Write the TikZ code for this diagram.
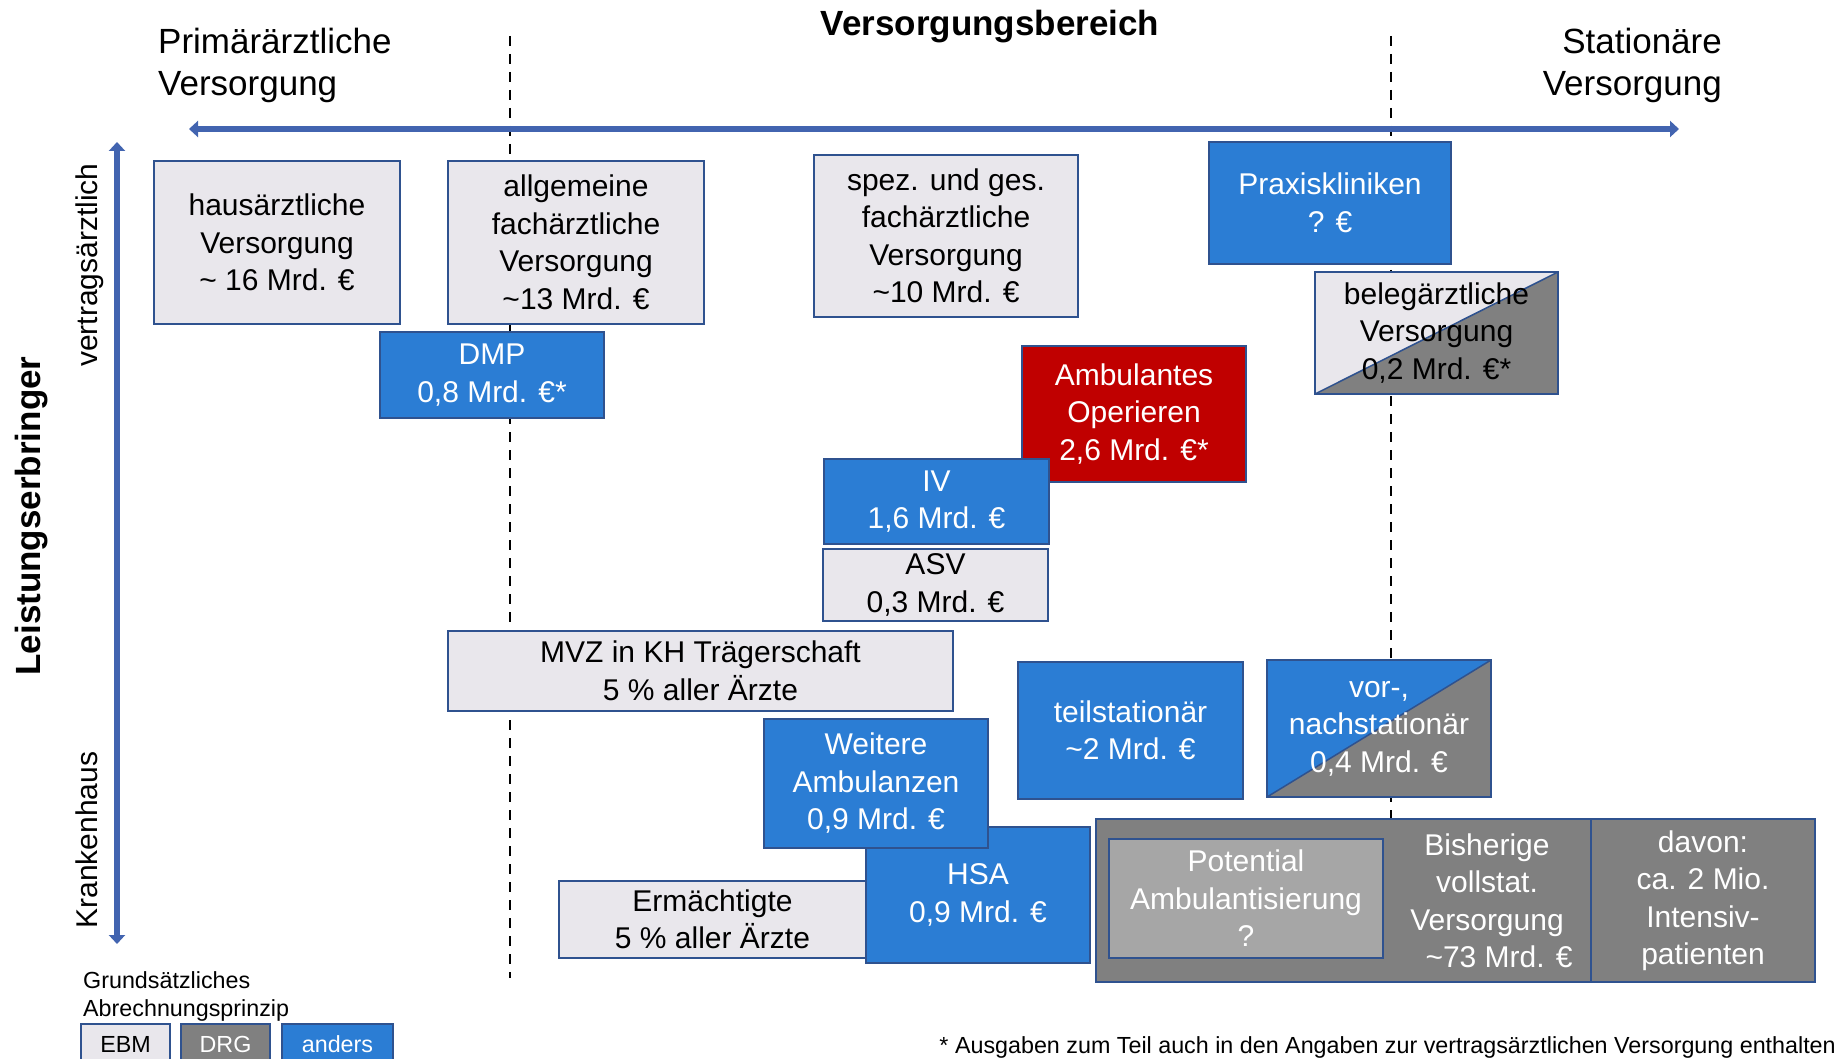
\documentclass[tikz,border=0pt]{standalone}
\usepackage{fontspec}
\setmainfont{Liberation Sans}
\usetikzlibrary{arrows.meta}

\definecolor{edgeblue}{RGB}{47,82,143}
\definecolor{axisblue}{RGB}{66,100,176}
\definecolor{ebmgray}{RGB}{233,231,236}
\definecolor{drggray}{RGB}{128,128,128}
\definecolor{potgray}{RGB}{166,166,166}
\definecolor{andersblue}{RGB}{43,125,212}
\definecolor{aopred}{RGB}{192,0,0}

\newcommand\boxfont{\fontsize{30}{37.5}\selectfont}
\newcommand\headfont{\fontsize{35}{42}\selectfont}
\newcommand\notefont{\fontsize{23.3}{28}\selectfont}

\tikzset{
  box/.style={draw=edgeblue, line width=2pt, inner sep=0pt, align=center, font=\boxfont},
  ebm/.style={box, fill=ebmgray},
  drg/.style={box, fill=drggray, text=white},
  anders/.style={box, fill=andersblue, text=white},
  halfbox/.style={box, fill=#1, path picture={
      \fill[drggray] (path picture bounding box.south west) -- (path picture bounding box.north east)
        -- (path picture bounding box.south east) -- cycle;
      \draw[edgeblue, line width=1.5pt] (path picture bounding box.south west) -- (path picture bounding box.north east);}},
  sector/.style={dash pattern=on 10pt off 8pt, line width=2pt},
  axis/.style={axisblue, line width=6pt, {Triangle[length=9pt,width=16pt]}-{Triangle[length=9pt,width=16pt]}},
}

\begin{document}
\begin{tikzpicture}[x=1pt, y=-1pt]
\useasboundingbox (0,0) rectangle (1838,1059);
% sector borders
\draw[sector] (510,36) -- (510,978);
\draw[sector] (1391,36) -- (1391,819);
% axes
\coordinate (hleft) at (189,129);
\coordinate (hright) at (1679,129);
\coordinate (vtop) at (117,142);
\coordinate (vbottom) at (117,944);
\draw[axis] (hleft) -- (hright);
\draw[axis] (vtop) -- (vbottom);
\node[font=\bfseries\headfont, anchor=base, inner sep=0pt] (title) at (990,36) {Versorgungsbereich};
\node[font=\headfont, align=left, anchor=base west, inner sep=0pt] (prim) at (158,96) {Primärärztliche\\Versorgung};
\node[font=\headfont, align=right, anchor=base east, inner sep=0pt] (stat) at (1722,96) {Stationäre\\Versorgung};
\node[font=\bfseries\headfont, rotate=90, anchor=base, inner sep=0pt] (leist) at (40,516) {Leistungserbringer};
\node[font=\boxfont, rotate=90, anchor=base, inner sep=0pt] (vertrag) at (97,265) {vertragsärztlich};
\node[font=\boxfont, rotate=90, anchor=base, inner sep=0pt] (kh) at (97,840) {Krankenhaus};
% vertragsaerztlich
\node[ebm, minimum width=246pt, minimum height=163pt] (haus) at (277,242.5) {hausärztliche\\Versorgung\\\textasciitilde{} 16 Mrd. €};
\node[ebm, minimum width=256pt, minimum height=163pt] (allg) at (576,242.5) {allgemeine\\fachärztliche\\Versorgung\\\textasciitilde13 Mrd. €};
\node[ebm, minimum width=264pt, minimum height=162pt] (spez) at (946,236) {spez. und ges.\\fachärztliche\\Versorgung\\\textasciitilde10 Mrd. €};
\node[anders, minimum width=224pt, minimum height=86pt] (dmp) at (492,375) {DMP\\0,8 Mrd. €*};
\node[anders, minimum width=242pt, minimum height=122pt] (praxis) at (1330,203) {Praxiskliniken\\? €};
\node[halfbox=ebmgray, minimum width=243pt, minimum height=122pt] (beleg) at (1436.5,333) {belegärztliche\\Versorgung\\0,2 Mrd. €*};
\node[box, fill=aopred, text=white, minimum width=224pt, minimum height=136pt] (aop) at (1134,414) {Ambulantes\\Operieren\\2,6 Mrd. €*};
\node[anders, minimum width=225pt, minimum height=85pt] (iv) at (936.5,501.5) {IV\\1,6 Mrd. €};
\node[ebm, minimum width=225pt, minimum height=72pt] (asv) at (935.5,585) {ASV\\0,3 Mrd. €};
% krankenhaus
\node[ebm, minimum width=505pt, minimum height=80pt] (mvz) at (700.5,671) {MVZ in KH Trägerschaft\\5 \% aller Ärzte};
\node[anders, minimum width=225pt, minimum height=137pt] (teil) at (1130.5,730.5) {teilstationär\\\textasciitilde2 Mrd. €};
\node[halfbox=andersblue, text=white, minimum width=224pt, minimum height=137pt] (vornach) at (1379,728.5) {vor-,\\nachstationär\\0,4 Mrd. €};
\node[anders, minimum width=224pt, minimum height=136pt] (hsa) at (978,895) {HSA\\0,9 Mrd. €};
\node[anders, minimum width=224pt, minimum height=129pt] (weitere) at (876,783.5) {Weitere\\Ambulanzen\\0,9 Mrd. €};
\node[ebm, minimum width=307pt, minimum height=77pt] (erm) at (712.5,919.5) {Ermächtigte\\5 \% aller Ärzte};
\node[drg, minimum width=495pt, minimum height=163pt] (vollstat) at (1343.5,900.5) {};
\node[drg, minimum width=224pt, minimum height=163pt] (intensiv) at (1703,900.5) {davon:\\ca. 2 Mio.\\Intensiv-\\patienten};
\node[box, fill=potgray, text=white, minimum width=274pt, minimum height=119pt] (potential) at (1246,898.5) {Potential\\Ambulantisierung\\?};
\node[font=\boxfont, text=white, align=center, inner sep=0pt] (bisher) at (1487,901) {Bisherige\\vollstat.\\Versorgung\\\hspace*{0.8em}\textasciitilde73 Mrd. €};
% legende
\node[font=\notefont, align=left, anchor=base west, inner sep=0pt] (legtitle) at (83,1016) {Grundsätzliches\\Abrechnungsprinzip};
\node[ebm, font=\notefont, minimum width=89pt, minimum height=40pt] (legebm) at (125.5,1044) {EBM};
\node[drg, font=\notefont, minimum width=89pt, minimum height=40pt] (legdrg) at (225.5,1044) {DRG};
\node[anders, font=\notefont, minimum width=111pt, minimum height=40pt] (leganders) at (337.5,1044) {anders};
\node[font=\notefont, anchor=base east, inner sep=0pt] (note) at (1836,1053) {* Ausgaben zum Teil auch in den Angaben zur vertragsärztlichen Versorgung enthalten};
\end{tikzpicture}
\end{document}
